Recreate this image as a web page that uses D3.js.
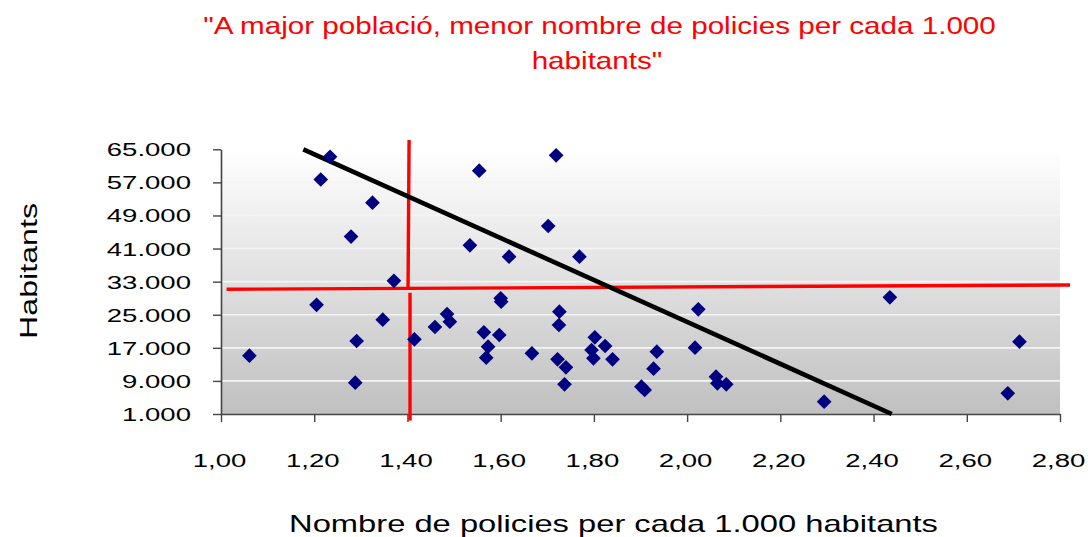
<!DOCTYPE html>
<html><head><meta charset="utf-8">
<script src="https://cdn.jsdelivr.net/npm/d3@7"></script>
<style>html,body{margin:0;padding:0;background:#fff;} svg{display:block;}</style>
</head><body>
<svg id="chart" width="1088" height="537"></svg>
<script>
// ---- data ----
const policeRate = [1.061,1.234,1.214,1.325,1.279,1.371,1.205,1.347,1.291,1.288,
  1.415,1.459,1.485,1.491,1.554,1.534,1.564,1.573,1.569,1.719,
  1.702,1.618,1.769,1.600,1.601,1.597,1.667,1.726,1.725,1.722,
  1.740,1.737,1.802,1.795,1.799,1.824,1.840,1.935,1.928,1.902,
  1.909,2.024,2.017,2.062,2.065,2.084,2.435,2.713,2.688,2.294];
const population = [15100,63200,57700,52100,43900,33200,27400,23800,18650,8570,
  19060,22030,25180,23320,59830,41790,20750,17270,14610,63540,
  46450,39030,39030,28970,28150,20100,15680,25730,22520,14220,
  12290,8180,19540,16470,14460,17440,14220,16060,11950,7600,
  6800,26310,17030,10020,8420,8180,29210,18480,6000,3970];
const xTickValues = [1.0,1.2,1.4,1.6,1.8,2.0,2.2,2.4,2.6,2.8];
const xTickLabels = ["1,00","1,20","1,40","1,60","1,80","2,00","2,20","2,40","2,60","2,80"];
const yTickValues = [1000,9000,17000,25000,33000,41000,49000,57000,65000];
const yTickLabels = ["1.000","9.000","17.000","25.000","33.000","41.000","49.000","57.000","65.000"];
const trendX = [1.1766, 2.439];
const trendY = [65000, 1000];
const refHX = [1.012, 2.8215], refHY = [31150, 32190];
const refV1X = [1.4035, 1.4013], refV1Y = [67250, 31300];
const refV2X = [1.4055, 1.4055], refV2Y = [30300, -600];
const titleLines = ["\"A major població, menor nombre de policies per cada 1.000", "habitants\""];
const xTitle = "Nombre de policies per cada 1.000 habitants";
const yTitle = "Habitants";

// ---- chart ----
const FONT = "'Liberation Sans', Arial, sans-serif";
const svg = d3.select("#chart");
const x = d3.scaleLinear().domain([1.0, 2.8]).range([221, 1060]);
const y = d3.scaleLinear().domain([1000, 65000]).range([414, 149.3]);

const defs = svg.append("defs");
const grad = defs.append("linearGradient").attr("id","bg").attr("x1",0).attr("y1",0).attr("x2",0).attr("y2",1);
grad.append("stop").attr("offset","0%").attr("stop-color","#ffffff");
grad.append("stop").attr("offset","100%").attr("stop-color","#c0c0c0");

svg.append("rect")
  .attr("x", x(1.0)).attr("y", y(65000))
  .attr("width", x(2.8) - x(1.0)).attr("height", y(1000) - y(65000))
  .attr("fill", "url(#bg)");

// gridlines
svg.append("g").selectAll("line").data(yTickValues.slice(1, -1)).join("line")
  .attr("x1", x(1.0)).attr("x2", x(2.8))
  .attr("y1", d => y(d)).attr("y2", d => y(d))
  .attr("stroke", "#f4f4f4").attr("stroke-width", 1.6);

// axes
const sxTick = 1.45;
const gy = svg.append("g").attr("transform", `translate(${x(1.0)},0)`)
  .call(d3.axisLeft(y).tickValues(yTickValues).tickFormat((d,i) => yTickLabels[i]).tickSize(8).tickSizeOuter(0));
gy.select(".domain").attr("stroke", "#444").attr("stroke-width", 1.6);
gy.selectAll(".tick line").attr("stroke", "#444").attr("stroke-width", 1.4);
gy.selectAll(".tick text")
  .attr("font-family", FONT).attr("font-size", 19).attr("fill", "#000")
  .attr("x", -30 / sxTick).attr("dy", "0.34em")
  .attr("transform", `scale(${sxTick},1)`);

const gx = svg.append("g").attr("transform", `translate(0,${y(1000)})`)
  .call(d3.axisBottom(x).tickValues(xTickValues).tickFormat((d,i) => xTickLabels[i]).tickSize(8).tickSizeOuter(0));
gx.select(".domain").attr("stroke", "#444").attr("stroke-width", 1.6);
gx.selectAll(".tick line").attr("stroke", "#444").attr("stroke-width", 1.4);
gx.selectAll(".tick text")
  .attr("font-family", FONT).attr("font-size", 19).attr("fill", "#000")
  .attr("y", 52.7).attr("dy", 0).attr("x", -2 / sxTick)
  .attr("transform", `scale(${sxTick},1)`);
svg.selectAll(".domain").attr("fill", "none");
svg.attr("font-family", FONT);

// reference red lines
const line = d3.line().x(d => x(d[0])).y(d => y(d[1]));
[[refHX, refHY], [refV1X, refV1Y], [refV2X, refV2Y]].forEach(([xs, ys]) => {
  svg.append("path").datum(xs.map((v,i) => [v, ys[i]]))
    .attr("d", line).attr("stroke", "#ff0000").attr("stroke-width", 3.4).attr("fill", "none");
});

// trend line
svg.append("path").datum(trendX.map((v,i) => [v, trendY[i]]))
  .attr("d", line).attr("stroke", "#000").attr("stroke-width", 4.6).attr("fill", "none");

// markers
const sym = d3.symbol(d3.symbolSquare, 108);
svg.append("g").selectAll("path").data(policeRate.map((v,i) => [v, population[i]])).join("path")
  .attr("d", sym)
  .attr("transform", d => `translate(${x(d[0])},${y(d[1])}) rotate(45)`)
  .attr("fill", "#000080");

// titles
function stretched(txt, cx, cy, size, color, target, extra) {
  const t = svg.append("text").text(txt).attr("font-family", FONT).attr("font-size", size)
    .attr("fill", color).attr("text-anchor", "middle");
  const len = t.node().getComputedTextLength();
  const s = target ? target / len : extra;
  t.attr("transform", `translate(${cx},${cy}) scale(${s},1)`);
  return s;
}
const sT = stretched(titleLines[0], 599.5, 34, 24, "#ff0000", 793);
stretched(titleLines[1], 597, 69, 24, "#ff0000", null, sT);
stretched(xTitle, 613.5, 531.7, 23, "#000", 649);

const yt = svg.append("text").text(yTitle).attr("font-family", FONT).attr("font-size", 23)
  .attr("fill", "#000").attr("text-anchor", "middle");
const ylen = yt.node().getComputedTextLength();
yt.attr("transform", `translate(37,271) rotate(-90) scale(${136 / ylen},1)`);
</script>
</body></html>
